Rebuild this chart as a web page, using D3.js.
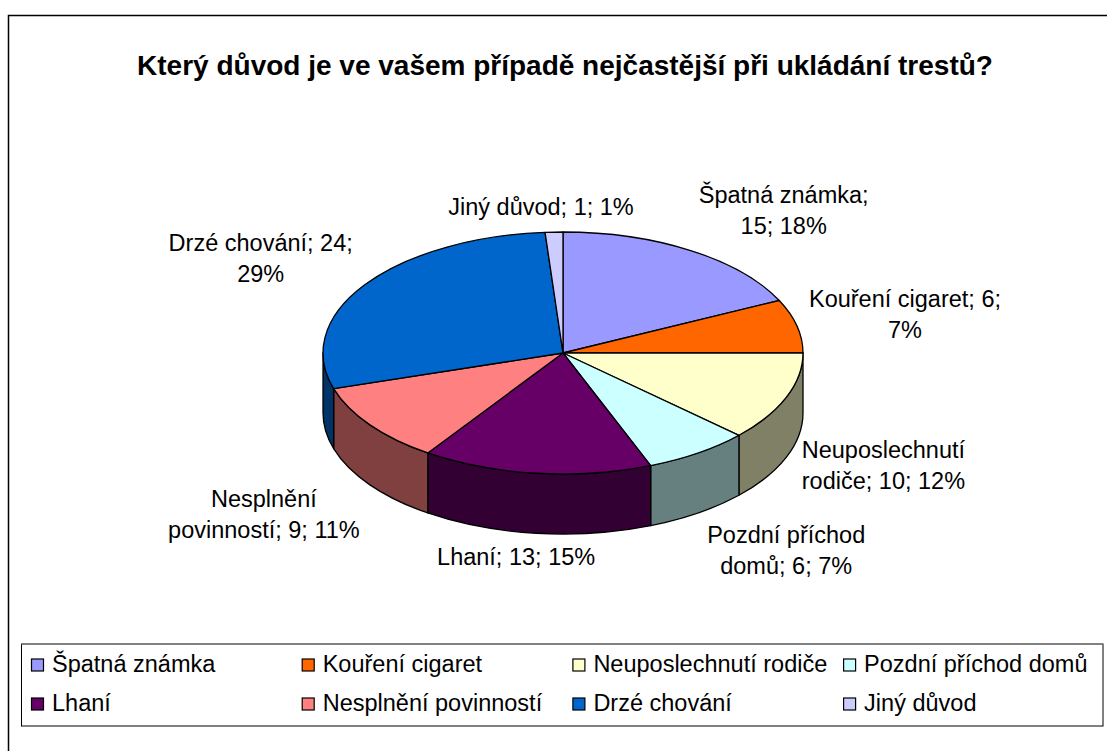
<!DOCTYPE html>
<html lang="cs">
<head>
  <meta charset="UTF-8" />
  <title>Který důvod je ve vašem případě nejčastější při ukládání trestů?</title>
  <script src="https://d3js.org/d3.v7.min.js"></script>
  <style>
    body {
      margin: 0;
      background: #fff;
    }
    svg {
      display: block;
      font-family: "Liberation Sans", Arial, sans-serif;
    }
    .title {
      font-size: 28px;
      font-weight: bold;
    }
    .label, .legend-label {
      font-size: 23.5px;
      fill: #000;
    }
  </style>
</head>
<body>
  <div id="chart"></div>

  <script>
    // data
    const categories = ["Špatná známka", "Kouření cigaret", "Neuposlechnutí rodiče", "Pozdní příchod domů",
                        "Lhaní", "Nesplnění povinností", "Drzé chování", "Jiný důvod"];
    const values = [15, 6, 10, 6, 13, 9, 24, 1];
    const colors = ["#9999FF", "#FF6600", "#FFFFCC", "#CCFFFF", "#660066", "#FF8080", "#0066CC", "#CCCCFF"];
    const title = "Který důvod je ve vašem případě nejčastější při ukládání trestů?";

    // label placement relative to the slice's mid point on the rim (dx, dy to first baseline)
    const labelOffsets = [[93, -48], [108, -19], [97, 61], [88, 90], [-20, 92], [-106, 82], [-104, -34], [-13, -17]];

    const width = 1107;
    const height = 751;
    const cx = 563, cy = 353;      // centre of the top face
    const rx = 240, ry = 121;      // ellipse radii
    const depth = 60;              // thickness of the pie

    const svg = d3.select("#chart")
                  .append("svg")
                    .attr("width", width)
                    .attr("height", height);

    // outer frame of the chart area
    svg.append("rect")
       .attr("x", 8.5).attr("y", 15.5)
       .attr("width", 1120).attr("height", 760)
       .attr("fill", "none")
       .attr("stroke", "#000")
       .attr("stroke-width", 1.5);

    svg.append("text")
       .attr("class", "title")
       .attr("x", 565)
       .attr("y", 75)
       .attr("text-anchor", "middle")
       .text(title);

    const total = d3.sum(values);
    const pct = d3.format(".0%");

    const pie = d3.pie().sort(null).value(d => d);
    const arcs = pie(values);

    const pt = (a, dz = 0) => [cx + rx * Math.sin(a), cy - ry * Math.cos(a) + dz];

    const sideColor = c => {
      const r = d3.rgb(c);
      return d3.rgb(r.r / 2, r.g / 2, r.b / 2).formatHex();
    };

    const g = svg.append("g")
                 .attr("stroke", "#000")
                 .attr("stroke-width", 1.3)
                 .attr("stroke-linejoin", "round");

    // side walls (only the front half is visible)
    g.selectAll(".side")
     .data(arcs.filter(d => d.endAngle > Math.PI / 2 && d.startAngle < 3 * Math.PI / 2))
     .enter()
     .append("path")
       .attr("class", "side")
       .attr("fill", d => sideColor(colors[d.index]))
       .attr("d", d => {
         const a1 = Math.max(d.startAngle, Math.PI / 2);
         const a2 = Math.min(d.endAngle, 3 * Math.PI / 2);
         const p1 = pt(a1), p2 = pt(a2), q2 = pt(a2, depth), q1 = pt(a1, depth);
         return `M${p1}A${rx},${ry} 0 0 1 ${p2}L${q2}A${rx},${ry} 0 0 0 ${q1}Z`;
       });

    // top faces
    g.selectAll(".top")
     .data(arcs)
     .enter()
     .append("path")
       .attr("class", "top")
       .attr("fill", d => colors[d.index])
       .attr("d", d => {
         const p1 = pt(d.startAngle), p2 = pt(d.endAngle);
         const large = d.endAngle - d.startAngle > Math.PI ? 1 : 0;
         return `M${cx},${cy}L${p1}A${rx},${ry} 0 ${large} 1 ${p2}Z`;
       });

    // data labels, wrapped like the original
    const maxLabelWidth = 205;
    const lineHeight = 31;

    arcs.forEach(d => {
      const mid = (d.startAngle + d.endAngle) / 2;
      const [ax, ay] = pt(mid);
      const [dx, dy] = labelOffsets[d.index];
      const words = `${categories[d.index]}; ${values[d.index]}; ${pct(values[d.index] / total)}`.split(" ");

      const text = svg.append("text")
                      .attr("class", "label")
                      .attr("text-anchor", "middle")
                      .attr("x", ax + dx)
                      .attr("y", ay + dy);

      let line = [];
      let lineNo = 0;
      let tspan = text.append("tspan").attr("x", ax + dx).attr("dy", 0);
      words.forEach(w => {
        line.push(w);
        tspan.text(line.join(" "));
        if (tspan.node().getComputedTextLength() > maxLabelWidth && line.length > 1) {
          line.pop();
          tspan.text(line.join(" "));
          line = [w];
          lineNo++;
          tspan = text.append("tspan")
                      .attr("x", ax + dx)
                      .attr("dy", lineHeight)
                      .text(w);
        }
      });
    });

    // legend
    const legendX = 21.5, legendY = 644, legendW = 1081.5, legendH = 82;
    const colStep = 270.7;
    const rowBase = [671.5, 710.5];

    const legend = svg.append("g");

    legend.append("rect")
          .attr("x", legendX).attr("y", legendY)
          .attr("width", legendW).attr("height", legendH)
          .attr("fill", "#fff")
          .attr("stroke", "#000")
          .attr("stroke-width", 1);

    legend.append("line")
          .attr("x1", legendX).attr("x2", legendX + legendW)
          .attr("y1", legendY).attr("y2", legendY)
          .attr("stroke", "#808080")
          .attr("stroke-width", 1.5);

    const item = legend.selectAll(".legend-item")
                       .data(categories)
                       .enter()
                       .append("g")
                         .attr("class", "legend-item")
                         .attr("transform", (d, i) => `translate(${31 + (i % 4) * colStep}, ${rowBase[Math.floor(i / 4)]})`);

    item.append("rect")
        .attr("x", 0.5).attr("y", -12.5)
        .attr("width", 12).attr("height", 12)
        .attr("fill", (d, i) => colors[i])
        .attr("stroke", "#000")
        .attr("stroke-width", 1.2);

    item.append("text")
        .attr("class", "legend-label")
        .attr("x", 21)
        .attr("y", 0)
        .text(d => d);
  </script>
</body>
</html>
